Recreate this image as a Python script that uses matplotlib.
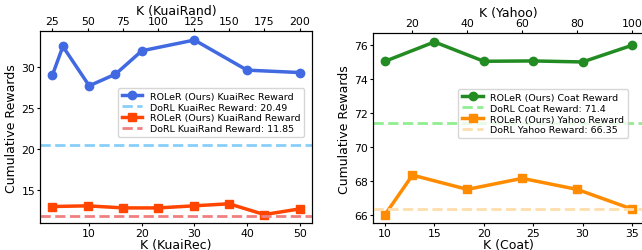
import matplotlib
matplotlib.use("Agg")
import matplotlib.pyplot as plt

# Left panel data
k_kuairec = [3, 5, 10, 15, 20, 30, 40, 50]
roler_kuairec = [28.98, 32.47, 27.69, 29.10, 31.94, 33.25, 29.59, 29.30]
k_kuairand = [25, 50, 75, 100, 125, 150, 175, 200]
roler_kuairand = [13.02, 13.10, 12.85, 12.85, 13.10, 13.35, 12.04, 12.73]
dorl_kuairec = 20.49
dorl_kuairand = 11.85

# Right panel data
k_coat = [10, 15, 20, 25, 30, 35]
roler_coat = [75.06, 76.20, 75.06, 75.08, 75.02, 76.00]
k_yahoo = [10, 20, 40, 60, 80, 100]
roler_yahoo = [66.02, 68.35, 67.51, 68.16, 67.51, 66.35]
dorl_coat = 71.4
dorl_yahoo = 66.35

W, H = 642, 251
fig = plt.figure(figsize=(W / 100, H / 100), dpi=100)

TICK_FS = 7.8
LAB_FS = 9
LEG_FS = 6.8
LW = 2.5
MS = 6


def px_axes(x0, x1, ytop, ybot):
    return fig.add_axes([x0 / W, (H - ybot) / H, (x1 - x0) / W, (ybot - ytop) / H])


def style(a):
    a.tick_params(labelsize=TICK_FS, length=2, pad=1.5)


# ---------- Left panel ----------
ax1 = px_axes(40, 312, 32.3, 224.3)
ax1t = ax1.twiny()
h1, = ax1.plot(k_kuairec, roler_kuairec, color="royalblue", marker="o",
               lw=LW, ms=MS, label="ROLeR (Ours) KuaiRec Reward")
h2 = ax1.axhline(dorl_kuairec, color="lightskyblue", ls="--", lw=2,
                 label=f"DoRL KuaiRec Reward: {dorl_kuairec}")
h3, = ax1t.plot(k_kuairand, roler_kuairand, color="orangered", marker="s",
                lw=LW, ms=MS, label="ROLeR (Ours) KuaiRand Reward")
h4 = ax1t.axhline(dorl_kuairand, color="lightcoral", ls="--", lw=2,
                  label=f"DoRL KuaiRand Reward: {dorl_kuairand}")
ax1.set_xticks([10, 20, 30, 40, 50])
ax1t.set_xticks([25, 50, 75, 100, 125, 150, 175, 200])
ax1.set_yticks([15, 20, 25, 30])
ax1.set_xlabel("K (KuaiRec)", fontsize=LAB_FS, labelpad=0)
ax1t.set_xlabel("K (KuaiRand)", fontsize=LAB_FS, labelpad=2)
ax1.set_ylabel("Cumulative Rewards", fontsize=LAB_FS, labelpad=2)
style(ax1)
style(ax1t)
ax1t.legend(handles=[h1, h2, h3, h4], fontsize=LEG_FS, loc="upper right",
            bbox_to_anchor=(0.971, 0.705), labelspacing=0.2,
            borderaxespad=0, handlelength=2.2)

# ---------- Right panel ----------
ax2 = px_axes(372.7, 644.3, 34.3, 224.3)
ax2t = ax2.twiny()
g1, = ax2.plot(k_coat, roler_coat, color="forestgreen", marker="o",
               lw=LW, ms=MS, label="ROLeR (Ours) Coat Reward")
g2 = ax2.axhline(dorl_coat, color="lightgreen", ls="--", lw=2,
                 label=f"DoRL Coat Reward: {dorl_coat}")
g3, = ax2t.plot(k_yahoo, roler_yahoo, color="darkorange", marker="s",
                lw=LW, ms=MS, label="ROLeR (Ours) Yahoo Reward")
g4 = ax2t.axhline(dorl_yahoo, color="navajowhite", ls="--", lw=2,
                  label=f"DoRL Yahoo Reward: {dorl_yahoo}")
ax2.set_xticks([10, 15, 20, 25, 30, 35])
ax2t.set_xticks([20, 40, 60, 80, 100])
ax2.set_yticks([66, 68, 70, 72, 74, 76])
ax2.set_xlabel("K (Coat)", fontsize=LAB_FS, labelpad=0)
ax2t.set_xlabel("K (Yahoo)", fontsize=LAB_FS, labelpad=2)
ax2.set_ylabel("Cumulative Rewards", fontsize=LAB_FS, labelpad=2)
style(ax2)
style(ax2t)
ax2t.legend(handles=[g1, g2, g3, g4], fontsize=LEG_FS, loc="upper right",
            bbox_to_anchor=(0.941, 0.707), labelspacing=0.2,
            borderaxespad=0, handlelength=2.2)

fig.savefig("out.png", dpi=100)
